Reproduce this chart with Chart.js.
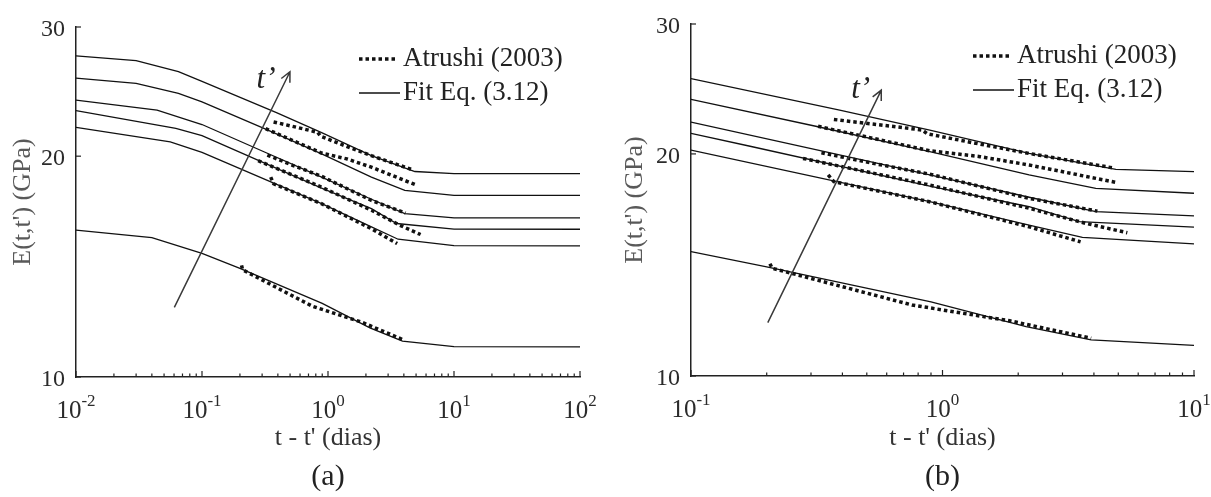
<!DOCTYPE html>
<html>
<head>
<meta charset="utf-8">
<script src="https://cdn.jsdelivr.net/npm/chart.js@4.4.0/dist/chart.umd.min.js"></script>
<style>
  html, body { margin: 0; padding: 0; background: #fff; }
  canvas { position: absolute; top: 0; }
  #chartA { left: 0; }
  #chartB { left: 605px; }
</style>
</head>
<body>
<canvas id="chartA" width="605" height="497"></canvas>
<canvas id="chartB" width="606" height="497"></canvas>
<script>
// t - t' (dias) and E(t,t') (GPa), one pair of arrays per curve, lowest t' last
const fit1T = [0.01, 0.03, 0.065, 0.1, 0.39, 0.89, 2.21, 4.89, 10, 100];
const fit1E = [27.4, 26.99, 26.07, 25.3, 22.93, 21.54, 20.03, 19.06, 18.93, 18.93];
const fit2T = [0.01, 0.03, 0.065, 0.1, 0.32, 0.89, 2.21, 4.07, 10, 100];
const fit2E = [25.56, 25.13, 24.36, 23.71, 21.77, 20.14, 18.73, 17.96, 17.69, 17.68];
const fit3T = [0.01, 0.044, 0.1, 0.31, 0.89, 2.21, 4.07, 10, 100];
const fit3E = [23.85, 23.11, 22.09, 20.28, 18.73, 17.47, 16.7, 16.48, 16.48];
const fit4T = [0.01, 0.062, 0.1, 0.17, 0.89, 2.21, 3.5, 10, 100];
const fit4E = [23.07, 21.83, 21.33, 20.5, 18.09, 16.96, 16.19, 15.91, 15.9];
const fit5T = [0.01, 0.056, 0.1, 0.89, 2.21, 3.6, 10, 100];
const fit5E = [21.89, 20.92, 20.24, 17.23, 16.02, 15.41, 15.1, 15.09];
const fit6T = [0.01, 0.04, 0.1, 0.2, 0.9, 2.15, 3.9, 10, 100];
const fit6E = [15.86, 15.49, 14.74, 14.06, 12.6, 11.67, 11.19, 11.0, 10.99];

// Atrushi (2003) measurements
const at1T = [0.37, 0.63, 0.83, 0.87, 1.32, 2.21, 4.75];
const at1E = [22.27, 21.8, 21.55, 21.3, 20.71, 20.03, 19.15];
const at2T = [0.32, 0.887, 1.41, 2.21, 4.07, 4.97];
const at2E = [21.8, 20.2, 19.83, 19.32, 18.53, 18.28];
const at3T = [0.33, 0.53, 0.887, 2.21, 4.13];
const at3E = [20.07, 19.42, 18.78, 17.41, 16.73];
const at4T = [0.279, 0.887, 2.21, 3.72, 5.43];
const at4E = [19.72, 18.15, 16.88, 16.1, 15.64];
const at5T = [0.351, 0.37, 0.887, 2.21, 3.54];
const at5E = [18.73, 18.34, 17.23, 15.93, 15.2];
const at6T = [0.206, 0.21, 0.757, 1.85, 3.9];
const at6E = [14.2, 14.0, 12.48, 11.88, 11.25];

const xTicksA = [0.01, 0.1, 1, 10, 100];
const xTicksB = [0.1, 1, 10];
const yTicks = [10, 20, 30];
const legendLabels = ['Atrushi (2003)', 'Fit Eq. (3.12)'];

// arrow for increasing t' (data coordinates)
const arrowA = { from: [0.0603, 12.44], to: [0.499, 26.07], label: [0.322, 25.4] };
const arrowB = { from: [0.202, 11.81], to: [0.571, 24.41], label: [0.473, 24.41] };

const serif = '"Liberation Serif", "Times New Roman", serif';
Chart.defaults.font.family = serif;

const fitSeries = [[fit1T, fit1E], [fit2T, fit2E], [fit3T, fit3E], [fit4T, fit4E], [fit5T, fit5E], [fit6T, fit6E]];
const dataSeries = [[at1T, at1E], [at2T, at2E], [at3T, at3E], [at4T, at4E], [at5T, at5E], [at6T, at6E]];

function points(t, e) {
    return t.map(function (v, i) { return { x: v, y: e[i] }; });
}

const dotStyle = { borderColor: '#111', borderWidth: 3.5, borderDash: [3.5, 3], borderCapStyle: 'butt' };
const lineStyle = { borderColor: '#111', borderWidth: 1.3 };

// ticks pointing inwards, superscript tick labels, legend and arrow
const axisDecor = {
    id: 'axisDecor',
    afterDraw: function (chart, args, opts) {
        const ctx = chart.ctx;
        const xs = chart.scales.x, ys = chart.scales.y;
        const area = chart.chartArea;
        ctx.save();
        ctx.strokeStyle = '#222';
        ctx.lineWidth = 1.2;
        const lo = Math.round(Math.log10(xs.min)), hi = Math.round(Math.log10(xs.max));
        for (let d = lo; d <= hi; d++) {
            for (let m = 1; m <= 9; m++) {
                const v = m * Math.pow(10, d);
                if (v > xs.max * 1.0001) break;
                const px = xs.getPixelForValue(v);
                ctx.beginPath();
                ctx.moveTo(px, area.bottom);
                ctx.lineTo(px, area.bottom - (m === 1 ? 6 : 3.5));
                ctx.stroke();
            }
        }
        yTicks.forEach(function (v) {
            const py = ys.getPixelForValue(v);
            ctx.beginPath();
            ctx.moveTo(area.left, py);
            ctx.lineTo(area.left + 5, py);
            ctx.stroke();
        });

        // tick labels
        ctx.fillStyle = '#2b2b2b';
        ctx.textBaseline = 'alphabetic';
        ctx.textAlign = 'left';
        opts.xTicks.forEach(function (v) {
            const e = String(Math.round(Math.log10(v)));
            ctx.font = '25px ' + serif;
            const w1 = ctx.measureText('10').width;
            ctx.font = '17px ' + serif;
            const w2 = ctx.measureText(e).width;
            const x0 = xs.getPixelForValue(v) - (w1 + w2) / 2;
            ctx.font = '25px ' + serif;
            ctx.fillText('10', x0, area.bottom + 41);
            ctx.font = '17px ' + serif;
            ctx.fillText(e, x0 + w1, area.bottom + 29);
        });
        ctx.font = '24px ' + serif;
        ctx.textAlign = 'right';
        yTicks.forEach(function (v) {
            ctx.fillText(String(v), area.left - 11, ys.getPixelForValue(v) + 9);
        });

        // legend
        const rows = [area.top + 32, area.top + 66];
        ctx.strokeStyle = '#111';
        ctx.lineWidth = dotStyle.borderWidth;
        ctx.setLineDash(dotStyle.borderDash);
        ctx.beginPath();
        ctx.moveTo(area.right - 221, rows[0]);
        ctx.lineTo(area.right - 183, rows[0]);
        ctx.stroke();
        ctx.setLineDash([]);
        ctx.lineWidth = lineStyle.borderWidth;
        ctx.beginPath();
        ctx.moveTo(area.right - 221, rows[1]);
        ctx.lineTo(area.right - 180, rows[1]);
        ctx.stroke();
        ctx.fillStyle = '#222';
        ctx.font = '27px ' + serif;
        ctx.textAlign = 'left';
        ctx.textBaseline = 'middle';
        ctx.fillText(legendLabels[0], area.right - 177, rows[0]);
        ctx.fillText(legendLabels[1], area.right - 177, rows[1]);

        // arrow
        const a = opts.arrow;
        const x1 = xs.getPixelForValue(a.from[0]), y1 = ys.getPixelForValue(a.from[1]);
        const x2 = xs.getPixelForValue(a.to[0]), y2 = ys.getPixelForValue(a.to[1]);
        const ang = Math.atan2(y2 - y1, x2 - x1);
        ctx.strokeStyle = '#3a3a3a';
        ctx.lineWidth = 1.5;
        ctx.beginPath();
        ctx.moveTo(x1, y1);
        ctx.lineTo(x2, y2);
        ctx.moveTo(x2 - 11 * Math.cos(ang - 0.45), y2 - 11 * Math.sin(ang - 0.45));
        ctx.lineTo(x2, y2);
        ctx.lineTo(x2 - 11 * Math.cos(ang + 0.45), y2 - 11 * Math.sin(ang + 0.45));
        ctx.stroke();
        ctx.fillStyle = '#222';
        ctx.font = 'italic 31px ' + serif;
        ctx.textAlign = 'center';
        ctx.fillText('t\u2019', xs.getPixelForValue(a.label[0]), ys.getPixelForValue(a.label[1]));
        ctx.restore();
    }
};

function buildChart(id, caption, xMin, xMax, xTicks, arrow, pad, yAxisW, xAxisH, yTitlePad) {
    const datasets = [];
    dataSeries.forEach(function (s) {
        datasets.push(Object.assign({ data: points(s[0], s[1]) }, dotStyle));
    });
    fitSeries.forEach(function (s) {
        datasets.push(Object.assign({ data: points(s[0], s[1]) }, lineStyle));
    });
    const ctx = document.getElementById(id).getContext('2d');
    return new Chart(ctx, {
        type: 'line',
        data: { datasets: datasets },
        options: {
            responsive: false,
            animation: false,
            layout: { padding: pad },
            elements: { point: { radius: 0 }, line: { tension: 0 } },
            plugins: {
                legend: { display: false },
                tooltip: { enabled: false },
                title: {
                    display: true, position: 'bottom', fullSize: false, text: caption,
                    color: '#222', padding: 0,
                    font: { size: 30, weight: 'normal', lineHeight: 1.2 }
                },
                axisDecor: { xTicks: xTicks, arrow: arrow }
            },
            scales: {
                x: {
                    type: 'logarithmic', min: xMin, max: xMax,
                    grid: { display: false },
                    border: { display: true, color: '#222', width: 1.5 },
                    ticks: { display: false },
                    title: {
                        display: true, text: "t - t' (dias)", color: '#333',
                        font: { size: 26, lineHeight: 1.2 }, padding: { top: 0, bottom: 5 }
                    },
                    afterFit: function (s) { s.height = xAxisH; }
                },
                y: {
                    type: 'logarithmic', min: 10, max: 30,
                    grid: { display: false },
                    border: { display: true, color: '#222', width: 1.5 },
                    ticks: { display: false },
                    title: {
                        display: true, text: "E(t,t') (GPa)", color: '#595959',
                        font: { size: 26, lineHeight: 1.2 }, padding: { top: yTitlePad, bottom: 0 }
                    },
                    afterFit: function (s) { s.width = yAxisW; }
                }
            }
        },
        plugins: [axisDecor]
    });
}

buildChart('chartA', '(a)', 0.01, 100, xTicksA, arrowA, { left: 0, right: 25, top: 27, bottom: 2 }, 76, 82, 8);
buildChart('chartB', '(b)', 0.1, 10, xTicksB, arrowB, { left: 0, right: 17, top: 24, bottom: 2 }, 86, 83, 15);
</script>
</body>
</html>
